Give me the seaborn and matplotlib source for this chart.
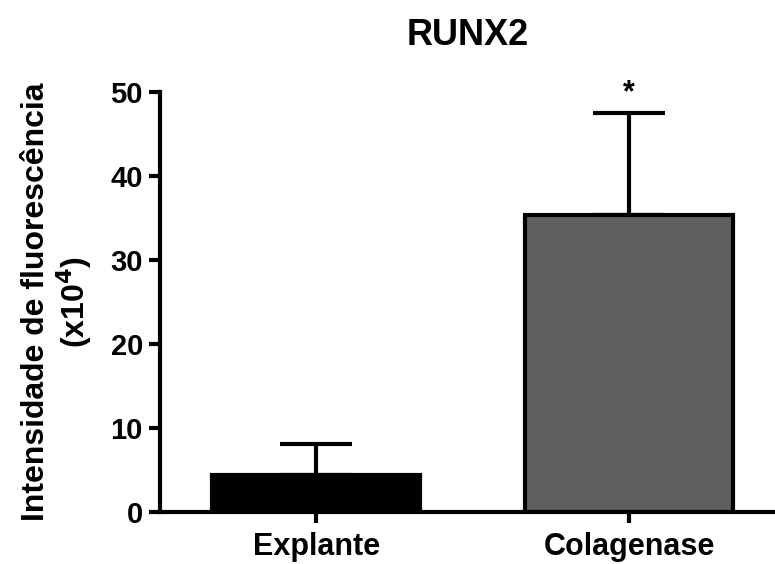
import matplotlib
matplotlib.use("Agg")
import matplotlib.pyplot as plt
import seaborn as sns
import pandas as pd
import numpy as np

categories = ["Explante", "Colagenase"]
means = [4.4, 35.4]
upper_err = [3.7, 12.1]
bar_colors = ["#000000", "#5f5f5f"]
yticks = [0, 10, 20, 30, 40, 50]

sns.set_style("ticks")
plt.rcParams['font.family'] = ['Liberation Sans', 'DejaVu Sans']
plt.rcParams['font.weight'] = 'bold'
plt.rcParams['text.color'] = 'black'
plt.rcParams['axes.labelcolor'] = 'black'

df = pd.DataFrame({"group": categories, "value": means})

fig = plt.figure(figsize=(7.75, 5.64), dpi=100)
ax = fig.add_axes([0.206, 0.092, 0.794, 0.745])

sns.barplot(data=df, x="group", y="value", hue="group", palette=bar_colors,
            legend=False, ax=ax, width=0.665, edgecolor="black", linewidth=3,
            errorbar=None)

x = np.arange(len(categories))
ax.errorbar(x, means, yerr=[np.zeros(len(means)), upper_err], fmt="none",
            ecolor="black", elinewidth=3, capsize=26, capthick=3, zorder=0)

ax.text(1, means[1] + upper_err[1] + 0.6, "*", ha="center", va="bottom",
        fontsize=22, fontweight="bold", color="black")

ax.set_xlim(-0.5, 1.466)
ax.set_ylim(0, 50)
ax.set_yticks(yticks)
ax.set_yticklabels([str(t) for t in yticks])
ax.set_xlabel("")
ax.set_ylabel("Intensidade de fluorescência\n(x10$^\\mathbf{4}$)", fontsize=23,
              fontweight="bold", labelpad=12, linespacing=1.1, color="black")
ax.set_title("RUNX2", fontsize=26, fontweight="bold", pad=34, color="black")

for s in ["top", "right"]:
    ax.spines[s].set_visible(False)
for s in ["left", "bottom"]:
    ax.spines[s].set_linewidth(3)
    ax.spines[s].set_color("black")
ax.tick_params(axis="both", width=3, length=8, colors="black")
ax.tick_params(axis="y", labelsize=21, pad=4)
ax.tick_params(axis="x", labelsize=22, pad=6)
for lab in ax.get_xticklabels() + ax.get_yticklabels():
    lab.set_fontweight("bold")

fig.savefig("out.png", dpi=100)
